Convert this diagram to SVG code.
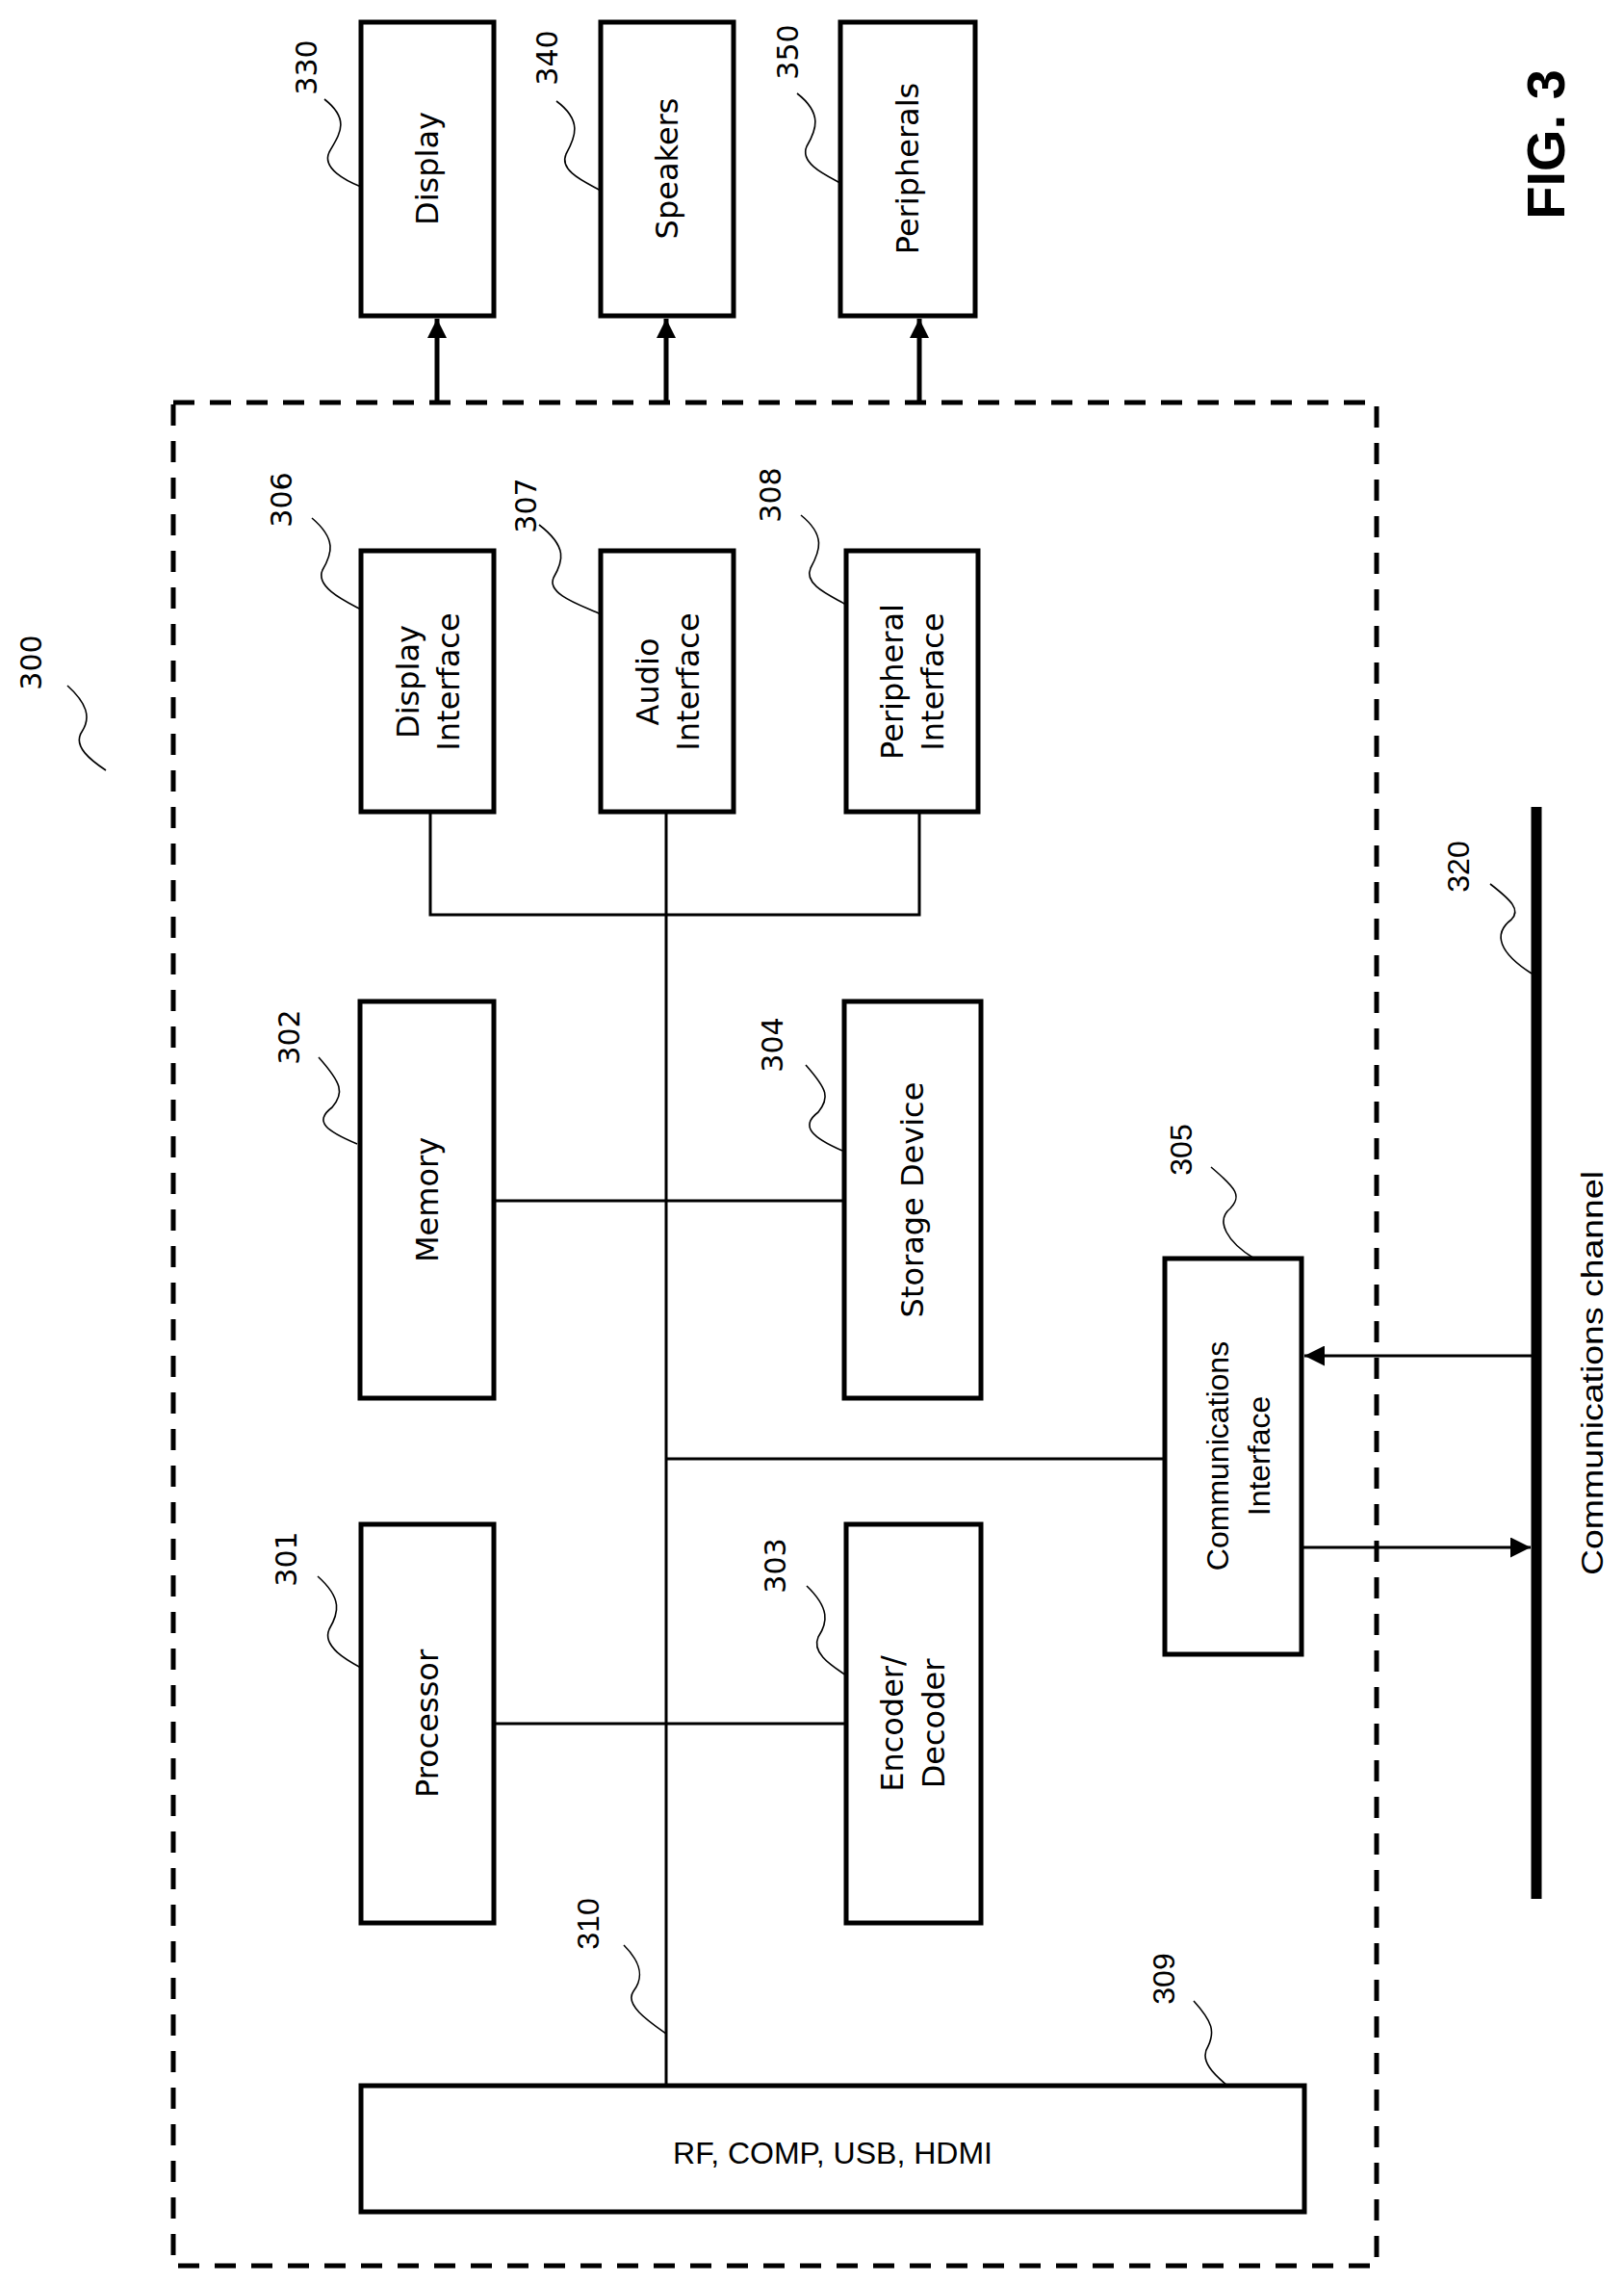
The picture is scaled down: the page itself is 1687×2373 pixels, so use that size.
<svg xmlns="http://www.w3.org/2000/svg" width="1687" height="2373" viewBox="0 0 1687 2373">
<style>
.box{fill:#fff;stroke:#000;stroke-width:5}
.ln{stroke:#000;stroke-width:3;fill:none}
.tk{stroke:#000;stroke-width:5;fill:none}
.sq{stroke:#000;stroke-width:1.6;fill:none}
.t{font-family:"DejaVu Sans",sans-serif;font-size:32px;text-anchor:middle;dominant-baseline:central}
.n{font-family:"DejaVu Sans",sans-serif;font-size:30px;text-anchor:middle;dominant-baseline:central}
.c{font-family:"Liberation Sans",sans-serif;font-size:32px;text-anchor:middle;dominant-baseline:central}
</style>
<defs>
<marker id="ah" viewBox="0 0 10 10" refX="10" refY="5" markerWidth="4" markerHeight="4" orient="auto" markerUnits="strokeWidth"><path d="M0,0L10,5L0,10z" fill="#000"/></marker>
<marker id="ah2" viewBox="0 0 10 10" refX="10" refY="5" markerWidth="7" markerHeight="7" orient="auto" markerUnits="strokeWidth"><path d="M0,0L10,5L0,10z" fill="#000"/></marker>
</defs>
<rect x="180" y="418" width="1250" height="1935" fill="none" stroke="#000" stroke-width="5" stroke-dasharray="22 16"/>
<g id="connectors">
<line class="tk" x1="454" y1="418" x2="454" y2="331" marker-end="url(#ah)"/>
<line class="tk" x1="692" y1="418" x2="692" y2="331" marker-end="url(#ah)"/>
<line class="tk" x1="955" y1="418" x2="955" y2="331" marker-end="url(#ah)"/>
<line class="ln" x1="692" y1="843" x2="692" y2="2166"/>
<polyline class="ln" points="447,843 447,950 955,950 955,843"/>
<line class="ln" x1="513" y1="1247" x2="877" y2="1247"/>
<line class="ln" x1="513" y1="1790" x2="879" y2="1790"/>
<line class="ln" x1="692" y1="1515" x2="1210" y2="1515"/>
<line class="ln" x1="1596" y1="1408" x2="1355" y2="1408" marker-end="url(#ah2)"/>
<line class="ln" x1="1352" y1="1607" x2="1590" y2="1607" marker-end="url(#ah2)"/>
<line x1="1596" y1="838" x2="1596" y2="1972" stroke="#000" stroke-width="11"/>
</g>
<g id="n330"><rect class="box" x="375" y="23" width="138" height="305"/><text class="t" transform="translate(444,175) rotate(-90)">Display</text><text class="n" transform="translate(318,70) rotate(-90)">330</text><path class="sq" d="M337,103 C365,125 352,140 342,158 C334,175 360,188 375,194"/></g>
<g id="n340"><rect class="box" x="624" y="23" width="138" height="305"/><text class="t" transform="translate(693,175) rotate(-90)">Speakers</text><text class="n" transform="translate(568,60) rotate(-90)">340</text><path class="sq" d="M578,105 C605,125 598,142 588,160 C580,178 610,190 624,198"/></g>
<g id="n350"><rect class="box" x="873" y="23" width="140" height="305"/><text class="t" transform="translate(943,175) rotate(-90)">Peripherals</text><text class="n" transform="translate(818,54) rotate(-90)">350</text><path class="sq" d="M828,97 C855,118 848,135 838,152 C830,170 860,183 873,190"/></g>
<g id="n306"><rect class="box" x="375" y="572" width="138" height="271"/><text class="t" transform="translate(424,708) rotate(-90)">Display</text><text class="t" transform="translate(466,708) rotate(-90)">Interface</text><text class="n" transform="translate(292,519) rotate(-90)">306</text><path class="sq" d="M324,538 C350,560 345,575 335,592 C327,610 360,625 375,633"/></g>
<g id="n307"><rect class="box" x="624" y="572" width="138" height="271"/><text class="t" transform="translate(673,708) rotate(-90)">Audio</text><text class="t" transform="translate(715,708) rotate(-90)">Interface</text><text class="n" transform="translate(546,525) rotate(-90)">307</text><path class="sq" d="M560,545 C590,568 585,583 575,600 C567,618 608,630 624,638"/></g>
<g id="n308"><rect class="box" x="879" y="572" width="137" height="271"/><text class="t" transform="translate(927,708) rotate(-90)">Peripheral</text><text class="t" transform="translate(969,708) rotate(-90)">Interface</text><text class="n" transform="translate(800,514) rotate(-90)">308</text><path class="sq" d="M832,535 C858,556 852,572 842,590 C834,608 866,620 879,628"/></g>
<g id="n302"><rect class="box" x="374" y="1040" width="139" height="412"/><text class="t" transform="translate(444,1246) rotate(-90)">Memory</text><text class="n" transform="translate(300,1077) rotate(-90)">302</text><path class="sq" d="M331,1098 C355,1125 358,1135 345,1150 C325,1165 340,1175 371,1188"/></g>
<g id="n304"><rect class="box" x="877" y="1040" width="142" height="412"/><text class="t" transform="translate(948,1246) rotate(-90)">Storage Device</text><text class="n" transform="translate(802,1085) rotate(-90)">304</text><path class="sq" d="M837,1106 C860,1132 862,1140 850,1155 C830,1170 845,1182 875,1195"/></g>
<g id="n305"><rect class="box" x="1210" y="1307" width="142" height="411"/><text class="c" transform="translate(1265,1512) rotate(-90)">Communications</text><text class="c" transform="translate(1308,1512) rotate(-90)">Interface</text><text class="c" transform="translate(1227,1194) rotate(-90)">305</text><path class="sq" d="M1258,1212 C1285,1235 1290,1242 1278,1255 C1262,1268 1275,1290 1303,1307"/></g>
<g id="n301"><rect class="box" x="375" y="1583" width="138" height="414"/><text class="t" transform="translate(444,1790) rotate(-90)">Processor</text><text class="n" transform="translate(297,1619) rotate(-90)">301</text><path class="sq" d="M330,1637 C356,1660 352,1675 342,1692 C334,1710 362,1725 375,1732"/></g>
<g id="n303"><rect class="box" x="879" y="1583" width="140" height="414"/><text class="t" transform="translate(927,1790) rotate(-90)">Encoder/</text><text class="t" transform="translate(970,1790) rotate(-90)">Decoder</text><text class="n" transform="translate(805,1626) rotate(-90)">303</text><path class="sq" d="M838,1647 C862,1670 860,1685 850,1700 C842,1718 868,1732 879,1740"/></g>
<g id="n309"><rect class="box" x="375" y="2166" width="980" height="131"/><text class="c" x="865" y="2236" font-size="36">RF, COMP, USB, HDMI</text><text class="c" transform="translate(1209,2055) rotate(-90)">309</text><path class="sq" d="M1240,2078 C1260,2100 1262,2110 1255,2125 C1245,2140 1262,2155 1275,2166"/></g>
<g id="l310"><text class="c" transform="translate(611,1998) rotate(-90)">310</text><path class="sq" d="M648,2020 C668,2040 668,2055 658,2068 C648,2082 675,2100 692,2112"/></g>
<g id="l320"><text class="c" transform="translate(1515,900) rotate(-90)">320</text><path class="sq" d="M1548,918 C1570,935 1580,945 1570,955 C1550,970 1558,990 1591,1011"/><text class="c" transform="translate(1654,1426) rotate(-90)" textLength="420" lengthAdjust="spacingAndGlyphs">Communications channel</text></g>
<g id="l300"><text class="n" transform="translate(32,688) rotate(-90)">300</text><path class="sq" d="M70,712 C90,730 95,745 85,760 C75,775 95,790 110,800"/></g>
<text transform="translate(1605,150) rotate(-90)" font-family="Liberation Sans, sans-serif" font-weight="bold" font-size="56" text-anchor="middle" dominant-baseline="central">FIG. 3</text>
</svg>
